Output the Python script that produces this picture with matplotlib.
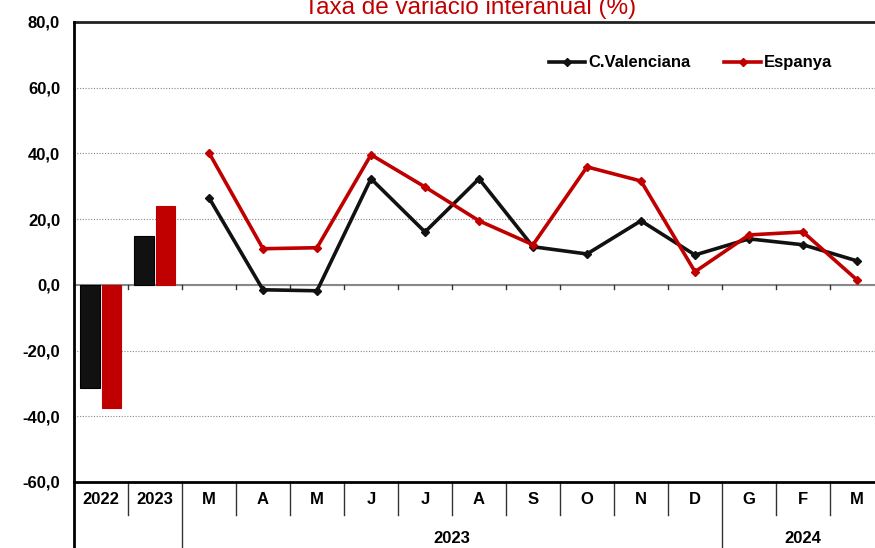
import numpy as np
import matplotlib
matplotlib.use("Agg")
import matplotlib.pyplot as plt
from matplotlib.transforms import blended_transform_factory

plt.rcParams['font.family'] = ['Liberation Sans Narrow', 'Liberation Sans', 'DejaVu Sans']

# annual bars
years = ["2022", "2023"]
bar_cv = [-31.3, 14.9]
bar_esp = [-37.4, 24.0]

# monthly lines
months = ["M", "A", "M", "J", "J", "A", "S", "O", "N", "D", "G", "F", "M"]
line_cv = [26.5, -1.5, -1.8, 32.3, 16.1, 32.3, 11.6, 9.4, 19.5, 9.1, 14.0, 12.2, 7.3]
line_esp = [40.2, 11.0, 11.3, 39.6, 29.8, 19.5, 12.2, 35.9, 31.6, 4.0, 15.2, 16.1, 1.5]
groups = [("", 0, 2), ("2023", 2, 12), ("2024", 12, 15)]

black = "#111111"
red = "#C00000"

fig = plt.figure(figsize=(8.75, 5.48), dpi=100)
ax = fig.add_axes([74 / 875, 66 / 548, 810 / 875, 460 / 548])

xb = np.arange(len(years))
ax.bar(xb - 0.2, bar_cv, width=0.36, color=black, edgecolor="black", linewidth=0.8, zorder=3)
ax.bar(xb + 0.19, bar_esp, width=0.36, color=red, edgecolor=red, linewidth=0.8, zorder=3)

xm = np.arange(len(months)) + len(years)
ax.plot(xm, line_cv, color=black, lw=2.6, marker="D", ms=4.5, label="C.Valenciana", zorder=4)
ax.plot(xm, line_esp, color=red, lw=2.6, marker="D", ms=4.5, label="Espanya", zorder=4)

n = len(years) + len(months)
ax.set_xlim(-0.5, n - 0.5)
ax.set_ylim(-60, 80)
ax.set_yticks(np.arange(-60, 81, 20))
ax.set_yticklabels([f"{v:.1f}".replace(".", ",") for v in np.arange(-60, 81, 20)],
                   fontsize=12, fontweight="bold")
ax.tick_params(axis="y", length=0, pad=10)
ax.yaxis.grid(True, color="#888888", linestyle=(0, (1, 1.5)), linewidth=0.8)
ax.set_axisbelow(True)
ax.axhline(0, color="#888888", lw=1.5, zorder=2)
ax.axhline(80, color="#222222", lw=2, zorder=2, clip_on=False)

# small ticks on the zero line at category boundaries
for b in np.arange(0.5, n - 0.5, 1):
    ax.plot([b, b], [0, -1.3], color="#333333", lw=1, zorder=2)

ax.set_xticks([])
for s in ["top", "right"]:
    ax.spines[s].set_visible(False)
ax.spines["left"].set_linewidth(2)
ax.spines["bottom"].set_linewidth(2)

# category labels below the axis
tr = blended_transform_factory(ax.transData, ax.transAxes)
labels = years + months
for i, lab in enumerate(labels):
    ax.text(i, -0.039, lab, transform=tr, ha="center", va="center",
            fontsize=12, fontweight="bold")
for b in np.arange(0.5, n - 0.5, 1):
    long = any(abs(b - (g[1] - 0.5)) < 1e-6 for g in groups[1:])
    ax.plot([b, b], [0, -0.143 if long else -0.072], transform=tr,
            color="#333333", lw=1, clip_on=False)
ax.plot([-0.5, -0.5], [0, -0.143], transform=tr, color="black", lw=2, clip_on=False)
for name, a, b in groups:
    if name:
        ax.text((a + b - 1) / 2, -0.122, name, transform=tr, ha="center", va="center",
                fontsize=12, fontweight="bold")

ax.legend(loc="upper right", bbox_to_anchor=(0.955, 0.96), ncol=2, frameon=False,
          prop={"weight": "bold", "size": 12}, handlelength=2.2, handletextpad=0.2,
          columnspacing=2.0)

fig.text(470 / 875, 1 - 14 / 548, "Taxa de variació interanual (%)", color=red,
         ha="center", va="baseline", fontsize=17.5)

fig.savefig("out.png", dpi=100)
